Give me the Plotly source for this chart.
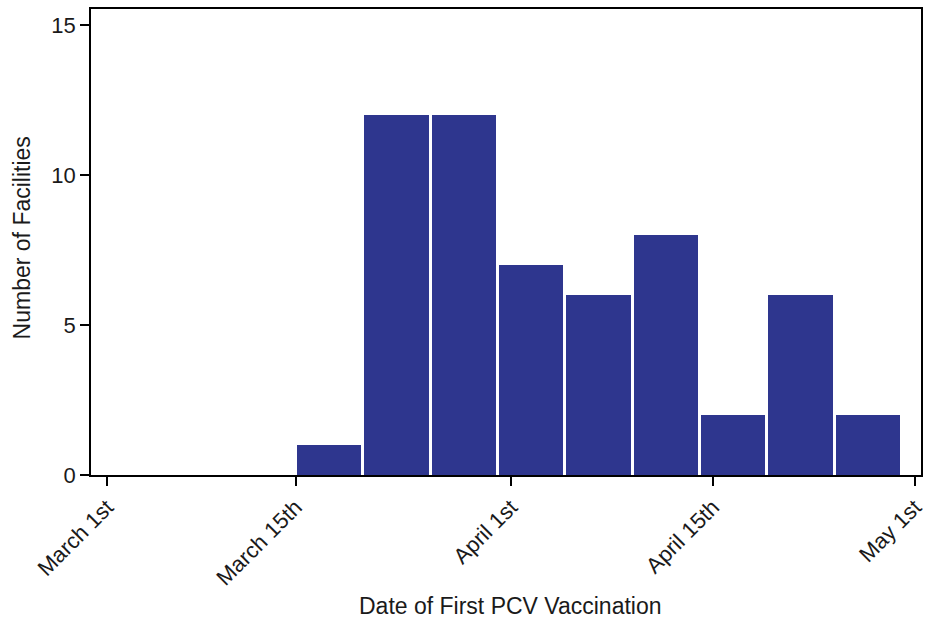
import plotly.graph_objects as go

# Histogram of first PCV vaccination dates (5-day bins, x in days since March 1st)
counts = [1, 12, 12, 7, 6, 8, 2, 6, 2]
bin_start_day = 14
bin_width_days = 5
tick_days = [0, 14, 30, 45, 60]
tick_labels = ["March 1st", "March 15th", "April 1st", "April 15th", "May 1st"]
y_ticks = [0, 5, 10, 15]

centers = [bin_start_day + bin_width_days * (i + 0.5) for i in range(len(counts))]

FONT = "Liberation Sans, Arial, sans-serif"
BAR = "#2e368e"

fig = go.Figure(
    go.Bar(
        x=centers,
        y=counts,
        width=bin_width_days * 0.955,
        marker=dict(color=BAR, line=dict(width=0)),
        hoverinfo="x+y",
    )
)

axis_common = dict(
    showline=True,
    linecolor="black",
    linewidth=1.5,
    mirror=True,
    ticks="outside",
    ticklen=9,
    tickwidth=1.5,
    tickcolor="black",
    showgrid=False,
    zeroline=False,
    automargin=False,
    tickfont=dict(family=FONT, size=22, color="#1a1a1a"),
)

fig.update_layout(
    width=925,
    height=620,
    margin=dict(l=91, r=4, t=9, b=145),
    plot_bgcolor="white",
    paper_bgcolor="white",
    showlegend=False,
    bargap=0,
    xaxis=dict(
        range=[-1.2, 60.45],
        tickmode="array",
        tickvals=tick_days,
        ticktext=tick_labels,
        tickangle=-45,
        ticklabeloverflow="allow",
        **axis_common,
    ),
    yaxis=dict(
        range=[0, 15.53],
        tickmode="array",
        tickvals=y_ticks,
        ticktext=[str(v) for v in y_ticks],
        **axis_common,
    ),
    annotations=[
        dict(
            text="Date of First PCV Vaccination",
            xref="paper", yref="paper",
            x=0.505, y=-0.281,
            xanchor="center", yanchor="middle",
            showarrow=False,
            font=dict(family=FONT, size=23, color="#1a1a1a"),
        ),
        dict(
            text="Number of Facilities",
            xref="paper", yref="paper",
            x=-0.083, y=0.508,
            xanchor="center", yanchor="middle",
            textangle=-90,
            showarrow=False,
            font=dict(family=FONT, size=23, color="#1a1a1a"),
        ),
    ],
)

fig.write_html("out.html")
